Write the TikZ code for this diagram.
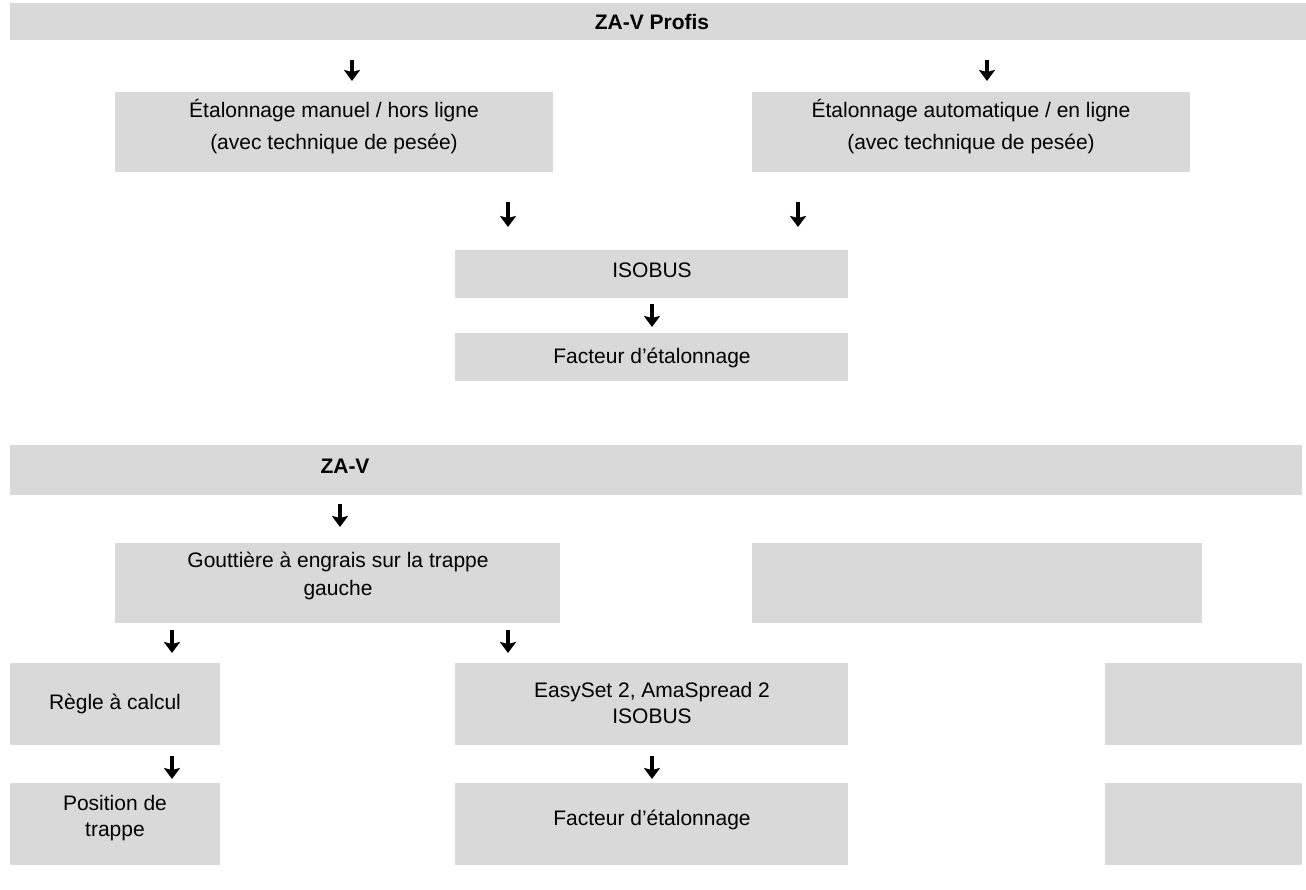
\documentclass[tikz,border=0pt]{standalone}
\usepackage{fontspec}
\setmainfont{Liberation Sans}
\usetikzlibrary{arrows.meta}
\definecolor{boxgray}{RGB}{217,217,217}
\newcommand{\apos}{\char"27\relax}
\tikzset{
  box/.style={fill=boxgray,draw=none},
  txt/.style={font=\fontsize{21}{32}\selectfont,align=center,inner sep=0pt},
  down/.style={line width=3.6pt,-{Stealth[length=11pt,width=16pt,inset=2pt]}},
}
\begin{document}
\begin{tikzpicture}[x=1pt,y=-1pt]
  \useasboundingbox (0,0) rectangle (1306,890);
  % upper part
  \fill [box] (10,3) rectangle (1306,40);
  \node [txt,font=\fontsize{21}{25}\selectfont\bfseries] (profis) at (652,22) {ZA-V Profis};
  \fill [box] (115,92) rectangle (553,172);
  \node [txt] (manuel) at (334,127) {Étalonnage manuel / hors ligne\\(avec technique de pesée)};
  \fill [box] (752,92) rectangle (1190,172);
  \node [txt] (auto) at (971,127) {Étalonnage automatique / en ligne\\(avec technique de pesée)};
  \fill [box] (455,250) rectangle (848,298);
  \node [txt] (isobus) at (652,270) {ISOBUS};
  \fill [box] (455,333) rectangle (848,381);
  \node [txt] (facteur) at (652,358) {Facteur d\apos étalonnage};
  % lower part
  \fill [box] (10,445) rectangle (1302,495);
  \node [txt,font=\fontsize{21}{25}\selectfont\bfseries] (zav) at (345,466) {ZA-V};
  \fill [box] (115,543) rectangle (560,623);
  \node [txt,font=\fontsize{21}{28}\selectfont] (goutt) at (338,576) {Gouttière à engrais sur la trappe\\gauche};
  \fill [box] (752,543) rectangle (1202,623);
  \fill [box] (10,663) rectangle (220,745);
  \node [txt] (regle) at (115,704) {Règle à calcul};
  \fill [box] (455,663) rectangle (848,745);
  \node [txt,font=\fontsize{21}{26}\selectfont] (easyset) at (652,703) {EasySet 2, AmaSpread 2\\ISOBUS};
  \fill [box] (1105,663) rectangle (1302,745);
  \fill [box] (10,783) rectangle (220,865);
  \node [txt,font=\fontsize{21}{26}\selectfont] (position) at (115,818) {Position de\\trappe};
  \fill [box] (455,783) rectangle (848,865);
  \node [txt] (facteurb) at (652,820) {Facteur d\apos étalonnage};
  \fill [box] (1105,783) rectangle (1302,865);
  % arrows
  \foreach \n/\x/\ya/\yb in {a/352/60/81, b/987/60/81, c/508/202/227, d/798/202/227,
      e/652/304/327, f/340/504/527, g/172/630/653, h/508/630/653, i/172/756/779, j/652/756/779}{
    \coordinate (s\n) at (\x,\ya);
    \coordinate (t\n) at (\x,\yb);
    \draw [down] (s\n) -- (t\n);
  }
\end{tikzpicture}
\end{document}
